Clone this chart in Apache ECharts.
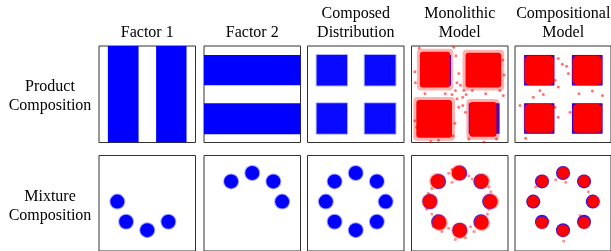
<!DOCTYPE html>
<html>
<head>
<meta charset="utf-8">
<style>
  html, body { margin: 0; padding: 0; background: #fff; }
  #main { width: 611px; height: 251px; }
</style>
<script src="https://cdn.jsdelivr.net/npm/echarts@6/dist/echarts.min.js"></script>
</head>
<body>
<div id="main"></div>
<script>
// column titles / row labels
var colTitles = ['Factor 1', 'Factor 2', 'Composed\nDistribution', 'Monolithic\nModel', 'Compositional\nModel'];
var rowLabels = ['Product\nComposition', 'Mixture\nComposition'];

// product composition: rectangles [x0, y0, x1, y1] in unit panel coords
var factor1Bands = [[0.092, 0, 0.41, 1], [0.592, 0, 0.907, 1]];
var factor2Bands = [[0, 0.086, 1, 0.407], [0, 0.593, 1, 0.907]];
var composedSquares = [[0.095, 0.09, 0.41, 0.407], [0.593, 0.09, 0.912, 0.407], [0.095, 0.59, 0.41, 0.907], [0.593, 0.59, 0.912, 0.907]];
var monolithicCores = [[0.087, 0.57, 0.40, 0.94], [0.56, 0.57, 0.93, 0.93], [0.05, 0.05, 0.42, 0.44], [0.60, 0.06, 0.88, 0.42]];
var compositionalCores = [[0.10, 0.595, 0.405, 0.90], [0.60, 0.595, 0.905, 0.90], [0.10, 0.10, 0.405, 0.40], [0.605, 0.10, 0.905, 0.40]];
var monolithicStray = [[0.437, 0.986], [0.49, 0.714], [0.507, 0.592], [0.455, 0.54], [0.542, 0.54], [0.566, 0.498],
  [0.42, 0.498], [0.472, 0.453], [0.531, 0.383], [0.559, 0.314], [0.49, 0.366], [0.035, 0.732], [0.052, 0.157],
  [0.035, 0.226], [0.28, 0.024], [0.916, 0.54], [0.951, 0.488], [0.594, 0.035], [0.881, 0.035], [0.63, 0.54],
  [0.35, 0.505], [0.944, 0.854], [0.14, 0.505], [0.77, 0.505], [0.46, 0.9], [0.47, 0.62], [0.53, 0.47],
  [0.04, 0.62], [0.45, 0.2], [0.96, 0.7], [0.2, 0.01], [0.75, 0.005], [0.43, 0.07], [0.08, 0.98]];
var compositionalStray = [[0.451, 0.871], [0.493, 0.812], [0.538, 0.791], [0.556, 0.714], [0.451, 0.575], [0.26, 0.54],
  [0.295, 0.498], [0.191, 0.47], [0.052, 0.383], [0.417, 0.366], [0.451, 0.261], [0.573, 0.314], [0.667, 0.505],
  [0.806, 0.533], [0.91, 0.488], [0.417, 0.645], [0.111, 0.045]];

// mixture composition: blob centres
var mixFactor1 = [[0.19, 0.5], [0.281, 0.281], [0.5, 0.19], [0.719, 0.281]];
var mixFactor2 = [[0.281, 0.719], [0.5, 0.81], [0.719, 0.719], [0.81, 0.5]];
var mixRing = [[0.5, 0.81], [0.719, 0.719], [0.81, 0.5], [0.719, 0.281], [0.5, 0.19], [0.281, 0.281], [0.19, 0.5], [0.281, 0.719]];
var mixMonolithic = [[0.49, 0.81], [0.727, 0.72], [0.82, 0.5], [0.727, 0.27], [0.5, 0.185], [0.29, 0.27], [0.19, 0.5], [0.27, 0.72]];
var mixCompositional = [[0.503, 0.81], [0.72, 0.72], [0.816, 0.5], [0.72, 0.27], [0.5, 0.185], [0.28, 0.27], [0.19, 0.5], [0.285, 0.72]];
var mixMonolithicStray = [[0.385, 0.807], [0.42, 0.71], [0.332, 0.676], [0.21, 0.641], [0.175, 0.59], [0.315, 0.762],
  [0.594, 0.779], [0.629, 0.745], [0.804, 0.659], [0.822, 0.607], [0.804, 0.417], [0.787, 0.366], [0.612, 0.228],
  [0.647, 0.176], [0.385, 0.21], [0.315, 0.176], [0.21, 0.366], [0.157, 0.417], [0.262, 0.348], [0.227, 0.228],
  [0.455, 0.09], [0.559, 0.107], [0.14, 0.538], [0.42, 0.848]];
var mixCompositionalStray = [[0.528, 0.71], [0.424, 0.738], [0.507, 0.072], [0.677, 0.348], [0.347, 0.29], [0.215, 0.659], [0.764, 0.607]];

var BLUE = '#0000ff';
var RED = '#ff0000';
var colLeft = [99, 204, 307.5, 411.5, 515];
var rowTop = [46, 155.5];
var panelSize = 96.5;

var myChart = echarts.init(document.getElementById('main'));

// rectangle renderer, pad = extra pixels round the data rect (for the fuzzy halo)
function rectItem(color, opacity, radius, pad) {
    return function (params, api) {
        var a = api.coord([api.value(0), api.value(1)]);
        var b = api.coord([api.value(2), api.value(3)]);
        return {
            type: 'rect',
            shape: { x: a[0] - pad, y: b[1] - pad, width: b[0] - a[0] + 2 * pad, height: a[1] - b[1] + 2 * pad, r: radius },
            style: { fill: color, opacity: opacity }
        };
    };
}

var grids = [], xAxes = [], yAxes = [], series = [];
var idx = 0;
function addPanel(row, col, list) {
    grids.push({ left: colLeft[col], top: rowTop[row], width: panelSize, height: row === 1 ? 100 : panelSize, show: true,
        borderColor: '#333', borderWidth: 1, backgroundColor: '#fff' });
    // row 2 is cut off at the bottom of the picture, keep its scale the same as row 1
    xAxes.push({ gridIndex: idx, type: 'value', min: 0, max: 1, show: false });
    yAxes.push({ gridIndex: idx, type: 'value', min: row === 1 ? -0.036 : 0, max: 1, show: false });
    list.forEach(function (s, k) {
        s.xAxisIndex = idx;
        s.yAxisIndex = idx;
        s.z = 2 + k;
        s.silent = true;
        s.animation = false;
        series.push(s);
    });
    idx++;
}
function rects(data, color, opacity, radius, pad) {
    return { type: 'custom', data: data, clip: true, renderItem: rectItem(color, opacity, radius || 0, pad || 0) };
}
function dots(data, color, size, opacity) {
    return { type: 'scatter', data: data, symbolSize: size, itemStyle: { color: color, opacity: opacity } };
}

// row 1: product composition
addPanel(0, 0, [rects(factor1Bands, BLUE, 1)]);
addPanel(0, 1, [rects(factor2Bands, BLUE, 1)]);
addPanel(0, 2, [rects(composedSquares, BLUE, 0.3, 1, 1), rects(composedSquares, BLUE, 0.95)]);
addPanel(0, 3, [rects(composedSquares, BLUE, 1), rects(monolithicCores, RED, 0.3, 4, 3),
    rects(monolithicCores, RED, 1, 3), dots(monolithicStray, RED, 3, 0.55)]);
addPanel(0, 4, [rects(composedSquares, BLUE, 1), rects(compositionalCores, RED, 0.3, 3, 1),
    rects(compositionalCores, RED, 1, 5), dots(compositionalStray, RED, 3, 0.55)]);

// row 2: mixture composition
addPanel(1, 0, [dots(mixFactor1, BLUE, 16, 0.35), dots(mixFactor1, BLUE, 14, 1)]);
addPanel(1, 1, [dots(mixFactor2, BLUE, 16, 0.35), dots(mixFactor2, BLUE, 14, 1)]);
addPanel(1, 2, [dots(mixRing, BLUE, 16, 0.35), dots(mixRing, BLUE, 14, 1)]);
addPanel(1, 3, [dots(mixRing, BLUE, 15, 0.8), dots(mixMonolithicStray, RED, 3, 0.45),
    dots(mixMonolithic, RED, 17, 0.3), dots(mixMonolithic, RED, 14, 1)]);
addPanel(1, 4, [dots(mixRing, BLUE, 14, 0.9), dots(mixCompositionalStray, RED, 3, 0.45),
    dots(mixCompositional, RED, 14, 0.25), dots(mixCompositional, RED, 12, 1)]);

// titles: serif text, centred over panels / beside rows
var serif = { fontFamily: "'Times New Roman', 'Liberation Serif', 'DejaVu Serif', serif", fontSize: 16,
    fontWeight: 'normal', color: '#000', lineHeight: 19 };
var titles = [];
colTitles.forEach(function (t, i) {
    var oneLine = t.indexOf('\n') < 0;
    titles.push({ text: t, left: colLeft[i] + panelSize / 2, top: oneLine ? 23 : 4, textAlign: 'center',
        padding: 0, itemGap: 0, textStyle: serif });
});
rowLabels.forEach(function (t, i) {
    titles.push({ text: t, left: 50, top: rowTop[i] + 31.5, textAlign: 'center', padding: 0, textStyle: serif });
});

var option = {
    backgroundColor: '#fff',
    animation: false,
    title: titles,
    grid: grids,
    xAxis: xAxes,
    yAxis: yAxes,
    series: series
};

myChart.setOption(option);
</script>
</body>
</html>
